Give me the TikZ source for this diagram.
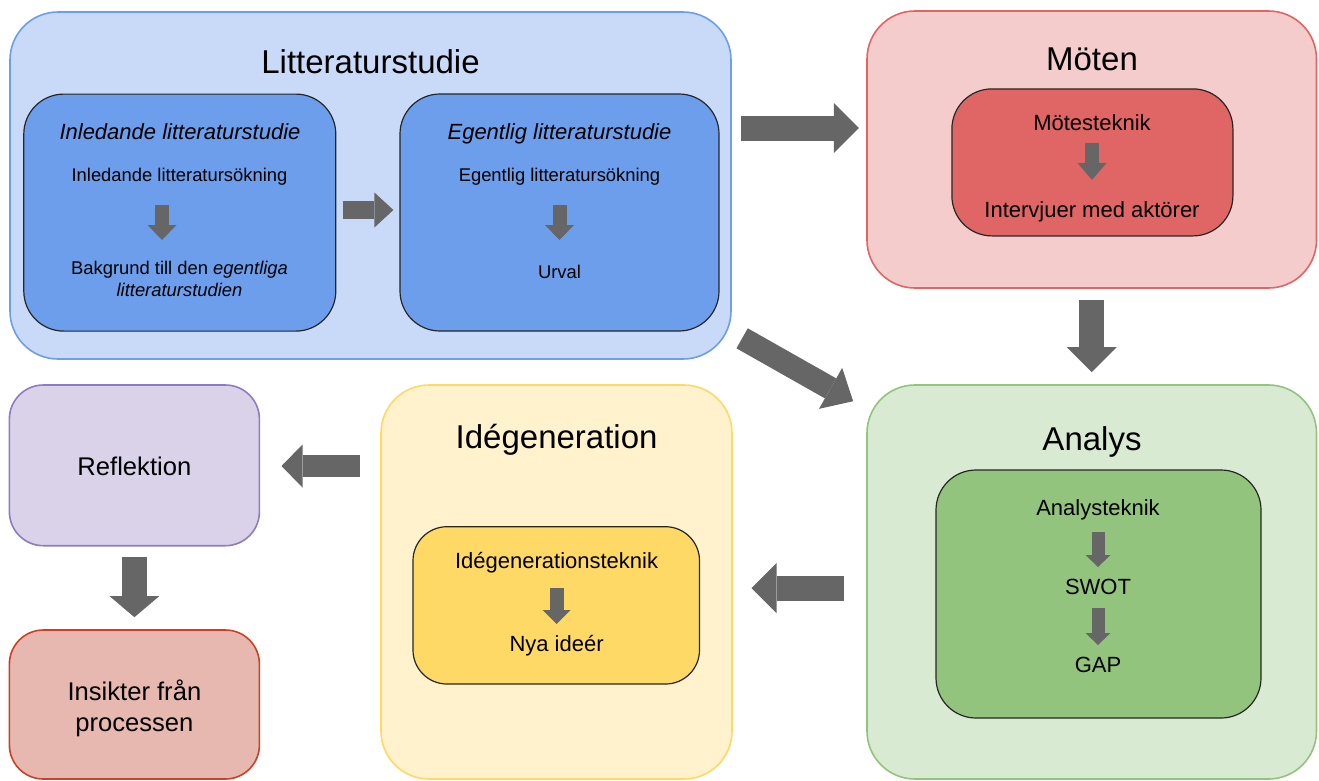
\documentclass[tikz,border=0pt]{standalone}
\usepackage{fontspec}
\setmainfont{Liberation Sans}
\usetikzlibrary{arrows.meta,calc}
\definecolor{litfill}{HTML}{C9DAF8}
\definecolor{litdraw}{HTML}{6D9EEB}
\definecolor{motfill}{HTML}{F4CCCC}
\definecolor{motdraw}{HTML}{E06666}
\definecolor{anfill}{HTML}{D9EAD3}
\definecolor{andraw}{HTML}{93C47D}
\definecolor{idfill}{HTML}{FFF2CC}
\definecolor{iddraw}{HTML}{FFD966}
\definecolor{reffill}{HTML}{D9D2E9}
\definecolor{refdraw}{HTML}{8E7CC3}
\definecolor{insfill}{HTML}{E6B8AF}
\definecolor{insdraw}{HTML}{CC4125}
\definecolor{arrowgray}{HTML}{666666}
\newcommand{\fT}{\fontsize{33}{40}\selectfont}
\newcommand{\fM}{\fontsize{22}{26}\selectfont}
\newcommand{\fS}{\fontsize{18.4}{22}\selectfont}
\newcommand{\fR}{\fontsize{25.6}{31}\selectfont}
\begin{document}
\begin{tikzpicture}[x=1pt,y=1pt,
  outerbox/.style={draw, line width=1.6pt, rounded corners=48pt, inner sep=0pt},
  smallbox/.style={draw, line width=1.6pt, rounded corners=34pt, inner sep=0pt},
  innerbox/.style={draw=black!85, line width=1.2pt, rounded corners=40pt, inner sep=0pt},
  txt/.style={anchor=base, inner sep=0pt, text=black},
  bigarrow/.style={draw=arrowgray, line width=25pt, -{Triangle[length=25pt,width=50pt,line width=0pt]}},
  midarrow/.style={draw=arrowgray, line width=18pt, -{Triangle[length=19pt,width=35pt,line width=0pt]}},
  sarrow/.style={draw=arrowgray, line width=14pt, -{Triangle[length=15pt,width=29pt,line width=0pt]}},
  tarrow/.style={draw=arrowgray, line width=13pt, -{Triangle[length=12pt,width=25pt,line width=0pt]}}
]
\useasboundingbox[fill=white] (0,0) rectangle (1319,-780);

% row coordinates
\coordinate (r1) at (0,-128);
\coordinate (r2) at (0,-210);
\coordinate (r3) at (0,-588);
\coordinate (r4) at (0,-466);

% Litteraturstudie
\node[outerbox, fill=litfill, draw=litdraw, minimum width=721pt, minimum height=347pt] (lit) at (370.5,-185.5) {};
\node[txt] (tLit) at (370.5,-73) {\fT Litteraturstudie};
\node[innerbox, fill=litdraw, minimum width=312pt, minimum height=237pt] (inl) at (179.8,-212.6) {};
\node[innerbox, fill=litdraw, minimum width=319pt, minimum height=237pt] (egl) at (559.5,-212.5) {};
\node[txt] (tInlH) at (180,-139) {\fM\itshape Inledande litteraturstudie};
\node[txt] (tInl1) at (179.5,-181) {\fS Inledande litteratursökning};
\node[txt] (tInl2) at (179.5,-274) {\fS Bakgrund till den \textit{egentliga}};
\node[txt] (tInl3) at (179.5,-296) {\fS\itshape litteraturstudien};
\node[txt] (tEglH) at (559.5,-139) {\fM\itshape Egentlig litteraturstudie};
\node[txt] (tEgl1) at (559.5,-181) {\fS Egentlig litteratursökning};
\node[txt] (tEgl2) at (559.5,-278) {\fS Urval};

% Moten
\node[outerbox, fill=motfill, draw=motdraw, minimum width=449.5pt, minimum height=277pt] (moten) at (1091.75,-149.5) {};
\node[txt] (tMot) at (1092,-70) {\fT Möten};
\node[innerbox, fill=motdraw, minimum width=281pt, minimum height=147pt] (motin) at (1092.4,-162.4) {};
\node[txt] (tMot1) at (1092,-130) {\fM Mötesteknik};
\node[txt] (tMot2) at (1092,-217) {\fM Intervjuer med aktörer};

% Analys
\node[outerbox, fill=anfill, draw=andraw, minimum width=449.5pt, minimum height=394pt] (analys) at (1091.75,-582) {};
\node[txt] (tAn) at (1092,-450) {\fT Analys};
\node[innerbox, fill=andraw, minimum width=325pt, minimum height=248pt] (anin) at (1098.5,-594) {};
\node[txt] (tAn1) at (1098,-515) {\fM Analysteknik};
\node[txt] (tAn2) at (1098,-594) {\fM SWOT};
\node[txt] (tAn3) at (1098,-672) {\fM GAP};

% Idegeneration
\node[outerbox, fill=idfill, draw=iddraw, minimum width=351pt, minimum height=394pt] (ide) at (556.5,-582) {};
\node[txt] (tIde) at (556.6,-448) {\fT Idégeneration};
\node[innerbox, rounded corners=34pt, fill=iddraw, minimum width=286.5pt, minimum height=157.3pt] (idein) at (556.25,-605.35) {};
\node[txt] (tIde1) at (556.6,-568) {\fM Idégenerationsteknik};
\node[txt] (tIde2) at (556.6,-651) {\fM Nya ideér};

% Reflektion, Insikter
\node[smallbox, fill=reffill, draw=refdraw, minimum width=250pt, minimum height=160.7pt] (refl) at (134.4,-465.35) {};
\node[txt] (tRef) at (134.4,-475) {\fR Reflektion};
\node[smallbox, fill=insfill, draw=insdraw, minimum width=250pt, minimum height=149pt] (ins) at (134.4,-704.5) {};
\node[txt] (tIns1) at (134.4,-700) {\fR Insikter från};
\node[txt] (tIns2) at (134.4,-731) {\fR processen};

% inner arrows
\draw[sarrow] ([xshift=-17.5pt,yshift=-24pt]tInl1.base) -- ([xshift=-17.5pt,yshift=34pt]tInl2.base);
\draw[sarrow] ([yshift=-24pt]tEgl1.base) -- ([yshift=38pt]tEgl2.base);
\draw[sarrow, -{Triangle[length=17pt,width=29pt,line width=0pt]}] ([yshift=-13pt]tMot1.base) -- ([yshift=37pt]tMot2.base);
\draw[tarrow] ([yshift=-17pt]tAn1.base) -- ([yshift=27pt]tAn2.base);
\draw[tarrow] ([yshift=-14pt]tAn2.base) -- ([yshift=27pt]tAn3.base);
\draw[sarrow, -{Triangle[length=14pt,width=28pt,line width=0pt]}] ([yshift=-20pt]tIde1.base) -- ([yshift=27pt]tIde2.base);

% block arrows between boxes
\draw[midarrow, shorten <=7pt, shorten >=6pt] (inl.east |- r2) -- (egl.west |- r2);
\draw[bigarrow, shorten <=9.5pt, shorten >=7.3pt] (lit.east |- r1) -- (moten.west |- r1);
\draw[bigarrow, shorten <=11pt, shorten >=12pt] (moten.south) -- (analys.north);
\draw[bigarrow, line width=23pt, -{Triangle[length=26pt,width=47pt,line width=0pt]}] ($(lit.south east)+(10.3pt,21.5pt)$) -- ($(analys.north west)+(-13pt,-17pt)$);
\draw[bigarrow, shorten <=22.3pt, shorten >=18.7pt] (analys.west |- r3) -- (ide.east |- r3);
\draw[bigarrow, line width=22pt, -{Triangle[length=21pt,width=43pt,line width=0pt]}, shorten <=20pt, shorten >=21.3pt] (ide.west |- r4) -- (refl.east |- r4);
\draw[bigarrow, -{Triangle[length=21pt,width=49.5pt,line width=0pt]}, shorten <=10pt, shorten >=12pt] (refl.south) -- (ins.north);
\end{tikzpicture}
\end{document}
